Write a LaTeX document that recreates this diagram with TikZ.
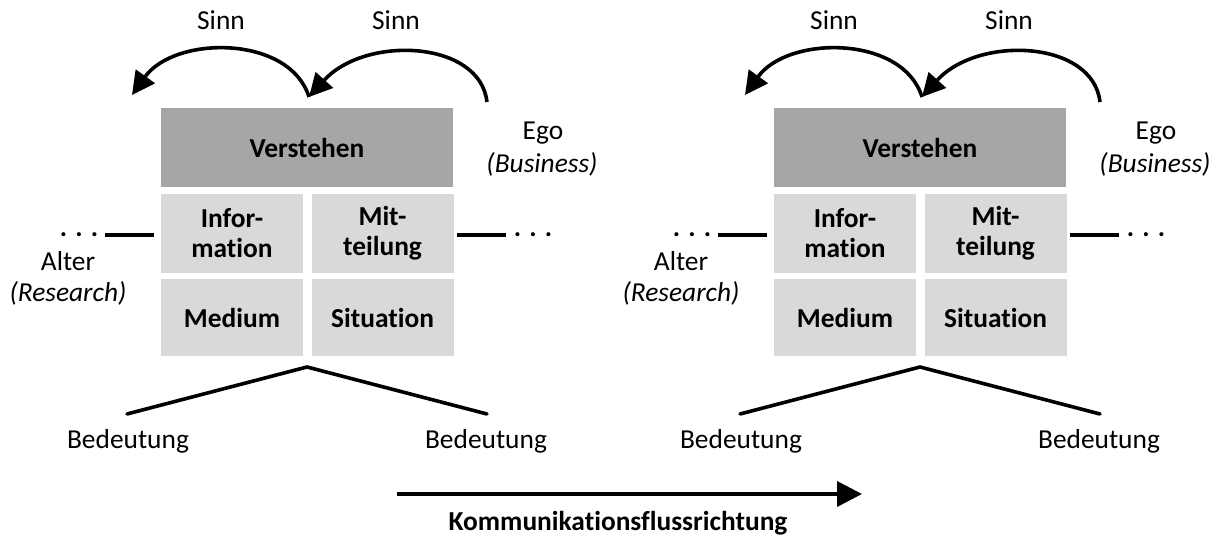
\documentclass[tikz,border=0pt]{standalone}
\usepackage{fontspec}
\setmainfont[Ligatures=NoCommon]{Carlito}
\usetikzlibrary{arrows.meta}
\definecolor{darkcell}{HTML}{A6A6A6}
\definecolor{lightcell}{HTML}{D9D9D9}
\newcommand{\labelfont}{\fontsize{27.4}{30}\selectfont}
\begin{document}
\begin{tikzpicture}[x=1pt,y=-1pt,
  every node/.style={font=\labelfont, inner sep=0pt, outer sep=0pt},
  lbl/.style={anchor=base},
  cell/.style={fill=lightcell, minimum width=142pt, minimum height=79pt,
    font=\labelfont\bfseries, align=center},
  headcell/.style={fill=darkcell, minimum width=292pt, minimum height=79pt,
    font=\labelfont\bfseries},
  tie/.style={line width=3.6pt},
  wing/.style={line width=3.6pt, line cap=round},
  sense/.style={line width=3.6pt, -{Triangle[length=23pt,width=23pt]}},
  flow/.style={line width=3.6pt, -{Triangle[length=25pt,width=25pt]}},
]
\useasboundingbox (0,0) rectangle (1224,537);

\foreach \g/\dx in {L/0,R/613}{
  \begin{scope}[xshift=\dx pt]
    % understanding, information, utterance, medium, situation
    \node[headcell] (\g-vs) at (307,147.5) {Verstehen};
    \node[cell] (\g-inf) at (232,233.5) {Infor-\\mation};
    \node[cell] (\g-mit) at (382.5,233.5) {Mit-\\teilung};
    \node[cell, minimum height=77pt] (\g-med) at (232,317.5) {Medium};
    \node[cell, minimum height=77pt] (\g-sit) at (382.5,317.5) {Situation};

    % sense arcs
    \node[lbl] (\g-sinnA) at (221,30) {Sinn};
    \node[lbl] (\g-sinnB) at (396,30) {Sinn};
    \coordinate (\g-ego0) at (487,102);
    \coordinate (\g-mid) at (309,97);
    \coordinate (\g-alt0) at (132,95);
    \draw[sense] (\g-ego0) .. controls (480,40) and (365,35) .. (\g-mid);
    \draw[sense] (\g-mid) .. controls (290,35) and (175,35) .. (\g-alt0);

    % participants
    \node[lbl] (\g-ego) at (543,140) {Ego};
    \node[lbl] (\g-bus) at (542,173) {\itshape (Business)};
    \node[lbl] (\g-alter) at (68,271) {Alter};
    \node[lbl] (\g-res) at (68,302) {\itshape (Research)};

    % links to neighbouring episodes
    \node[lbl, font=\labelfont\bfseries] (\g-dl) at (79,237) {.\hspace{8.2pt}.\hspace{8.2pt}.};
    \node[lbl, font=\labelfont\bfseries] (\g-dr) at (533,237) {.\hspace{8.2pt}.\hspace{8.2pt}.};
    \coordinate (\g-tl0) at (105,235);
    \coordinate (\g-tl1) at (154,235);
    \coordinate (\g-tr0) at (457,235);
    \coordinate (\g-tr1) at (506,235);
    \draw[tie] (\g-tl0) -- (\g-tl1);
    \draw[tie] (\g-tr0) -- (\g-tr1);

    % meaning
    \coordinate (\g-apex) at (307,367);
    \coordinate (\g-wl) at (127,414);
    \coordinate (\g-wr) at (487,414);
    \draw[wing] (\g-wl) -- (\g-apex) -- (\g-wr);
    \node[lbl] (\g-bedL) at (128,448) {Bedeutung};
    \node[lbl] (\g-bedR) at (486,448) {Bedeutung};
  \end{scope}
}

% direction of the communication flow
\coordinate (f0) at (397,494);
\coordinate (f1) at (862,494);
\draw[flow] (f0) -- (f1);
\node[lbl, font=\labelfont\bfseries] (flowlabel) at (618,530) {Kommunikationsflussrichtung};
\end{tikzpicture}
\end{document}
